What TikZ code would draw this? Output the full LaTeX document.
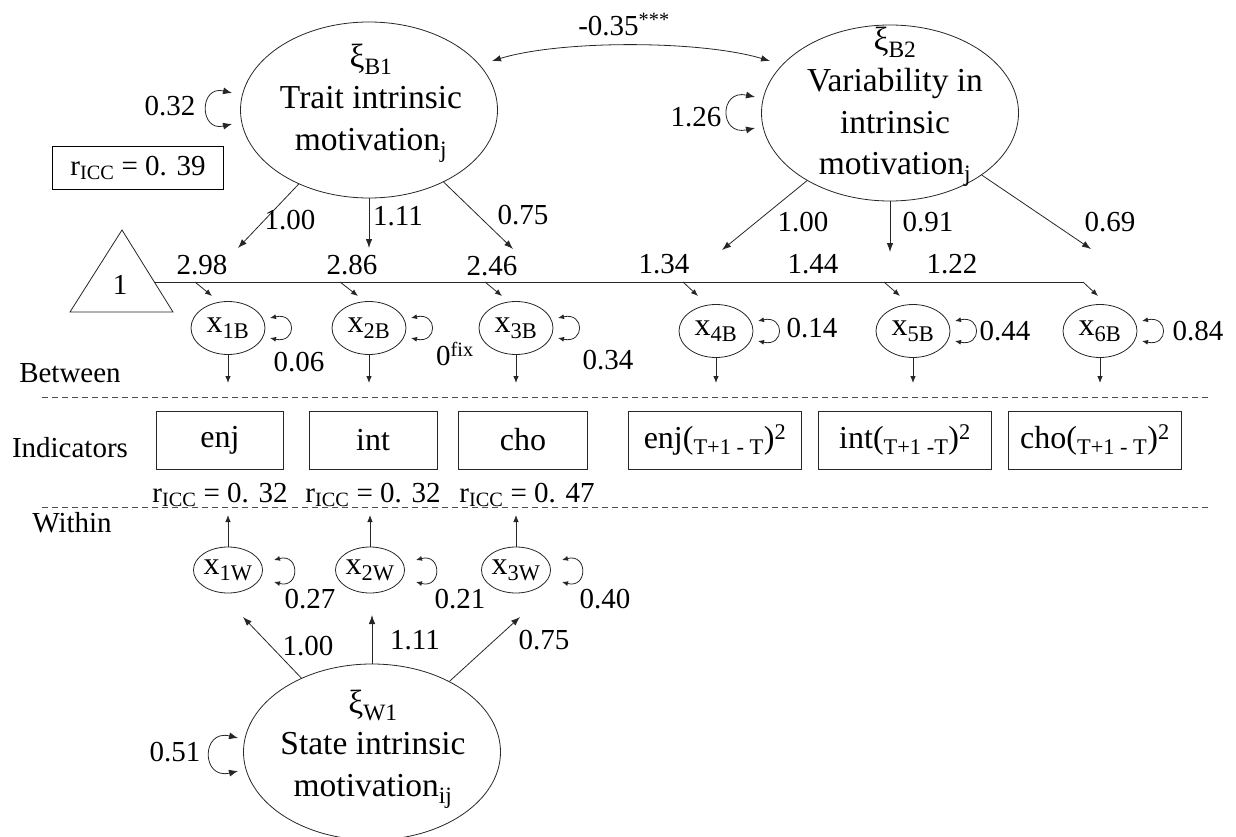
\documentclass[tikz,border=0pt]{standalone}
\usepackage{fontspec}
\setmainfont{Liberation Serif}
\usetikzlibrary{arrows.meta,shapes.geometric}
\begin{document}
\begin{tikzpicture}[x=1pt,y=-1pt,
  ln/.style={draw=black!85, line width=0.8pt},
  lat/.style={ln, ellipse, minimum width=257pt, minimum height=176pt, inner sep=0pt},
  obsB/.style={ln, ellipse, minimum width=74pt, minimum height=53pt, inner sep=0pt, font=\fontsize{32}{36}\selectfont},
  obsW/.style={ln, ellipse, minimum width=68pt, minimum height=46pt, inner sep=0pt, font=\fontsize{32}{36}\selectfont},
  ind/.style={ln, rectangle, minimum height=58pt, inner sep=0pt, font=\fontsize{32}{36}\selectfont},
  lab/.style={inner sep=0pt, font=\fontsize{29}{34}\selectfont},
  bigtxt/.style={inner sep=0pt, align=center, font=\fontsize{33.5}{41.5}\selectfont},
  arr/.style={ln, -{Latex[length=9pt,width=6.5pt]}},
  sarr/.style={ln, -{Latex[length=7pt,width=5.5pt]}},
  cov/.style={ln, {Latex[length=9pt,width=6.5pt]}-{Latex[length=9pt,width=6.5pt]}},
  lp/.style={ln, {Latex[length=6pt,width=5pt]}-{Latex[length=6pt,width=5pt]}},
  lpbig/.style={ln, {Latex[length=9pt,width=7pt]}-{Latex[length=9pt,width=7pt]}},
  divider/.style={draw=black!70, line width=0.7pt, dash pattern=on 6pt off 4pt}
]
\useasboundingbox (0,0) rectangle (1236,837);

% ---------- latent variables ----------
\node[lat] (B1) at (369,110) {};
\node[bigtxt] (B1t) at (371,103) {ξ\textsubscript{B1}\\Trait intrinsic\\motivation\textsubscript{j}};
\node[lat] (B2) at (890,113) {};
\node[bigtxt] (B2t) at (895,107) {ξ\textsubscript{B2}\\Variability in\\intrinsic\\motivation\textsubscript{j}};
\node[lat] (W1) at (372,752) {};
\node[bigtxt] (W1t) at (373,749) {ξ\textsubscript{W1}\\State intrinsic\\motivation\textsubscript{ij}};

% ---------- covariance ----------
\coordinate (cvA) at (492,61);
\coordinate (cvB) at (770,61);
\draw[cov] (cvA) .. controls (560,40) and (700,40) .. (cvB);
\node[lab] (cvl) at (624,25) {-0.35\textsuperscript{***}};

% ---------- latent variances ----------
\coordinate (vB1a) at (232,93);  \coordinate (vB1b) at (232,124);
\draw[lpbig] (vB1a) .. controls (199,85) and (199,132) .. (vB1b);
\node[lab] (vB1l) at (170,106) {0.32};
\coordinate (vB2a) at (755,97);  \coordinate (vB2b) at (755,128);
\draw[lpbig] (vB2a) .. controls (719,89) and (719,136) .. (vB2b);
\node[lab] (vB2l) at (696,117) {1.26};
\coordinate (vW1a) at (238,738); \coordinate (vW1b) at (238,771);
\draw[lpbig] (vW1a) .. controls (201,729) and (201,780) .. (vW1b);
\node[lab] (vW1l) at (175,752) {0.51};

% ---------- ICC box ----------
\node[draw=black, line width=1.3pt, minimum width=171pt, minimum height=43pt, inner sep=0pt,
      font=\fontsize{29}{34}\selectfont] (icc) at (138,168) {r\textsubscript{ICC} = 0. 39};

% ---------- between loadings ----------
\coordinate (t11) at (238,248);
\coordinate (t12) at (369,248);
\coordinate (t13) at (513,249);
\draw[arr] (B1) -- (t11);
\draw[arr] (B1) -- (t12);
\draw[arr] (B1) -- (t13);
\node[lab] (l11) at (290,220) {1.00};
\node[lab] (l12) at (398,216) {1.11};
\node[lab] (l13) at (523,215) {0.75};
\coordinate (t21) at (722,250);
\coordinate (t22) at (890,252);
\coordinate (t23) at (1091,249);
\draw[arr] (B2) -- (t21);
\draw[arr] (B2) -- (t22);
\draw[arr] (B2) -- (t23);
\node[lab] (l21) at (803,222) {1.00};
\node[lab] (l22) at (928,222) {0.91};
\node[lab] (l23) at (1110,222) {0.69};

% ---------- mean structure ----------
\coordinate (tr1) at (122,230);
\coordinate (tr2) at (70,312);
\coordinate (tr3) at (173,312);
\draw[ln] (tr1) -- (tr2) -- (tr3) -- cycle;
\node[lab] (one) at (120,285) {1};
\coordinate (m0) at (154,282);
\coordinate (m6) at (1083,282);
\draw[ln] (m0) -- (m6);
\foreach \s/\t/\n in {195/212/1, 340/358/2, 485/502/3, 683/698/4, 884/900/5, 1083/1098/6}{
  \coordinate (ms\n) at (\s,282);
  \coordinate (mt\n) at (\t,296);
  \draw[sarr] (ms\n) -- (mt\n);
}
\node[lab] (mu1) at (202,265) {2.98};
\node[lab] (mu2) at (352,265) {2.86};
\node[lab] (mu3) at (492,266) {2.46};
\node[lab] (mu4) at (664,264) {1.34};
\node[lab] (mu5) at (813,264) {1.44};
\node[lab] (mu6) at (952,264) {1.22};

% ---------- between observed ----------
\node[obsB] (x1B) at (228,328) {x\textsubscript{1B}};
\node[obsB] (x2B) at (369,328) {x\textsubscript{2B}};
\node[obsB] (x3B) at (516,328) {x\textsubscript{3B}};
\node[obsB] (x4B) at (716,331) {x\textsubscript{4B}};
\node[obsB] (x5B) at (913,331) {x\textsubscript{5B}};
\node[obsB] (x6B) at (1100,331) {x\textsubscript{6B}};
\foreach \n/\cx/\cy in {x1B/228/328, x2B/369/328, x3B/516/328, x4B/716/331, x5B/913/331, x6B/1100/331}{
  \coordinate (\n a) at ({\cx+42},{\cy-10});
  \coordinate (\n b) at ({\cx+42},{\cy+10});
  \draw[lp] (\n a) .. controls ({\cx+69},{\cy-16}) and ({\cx+69},{\cy+16}) .. (\n b);
  \coordinate (\n d) at (\cx,383);
  \draw[sarr] (\n) -- (\n d);
}
\node[lab] (r1B) at (299,362) {0.06};
\node[lab, anchor=west] (r2B) at (436,354) {0\textsuperscript{fix}};
\node[lab] (r3B) at (608,360) {0.34};
\node[lab] (r4B) at (812,328) {0.14};
\node[lab] (r5B) at (1005,331) {0.44};
\node[lab] (r6B) at (1198,331) {0.84};

% ---------- section dividers ----------
\coordinate (d1a) at (42,397);  \coordinate (d1b) at (1208,397);
\coordinate (d2a) at (42,507);  \coordinate (d2b) at (1208,507);
\draw[divider] (d1a) -- (d1b);
\draw[divider] (d2a) -- (d2b);
\node[lab] (betw) at (70,373) {Between};
\node[lab] (indi) at (70,448) {Indicators};
\node[lab] (with) at (72,523) {Within};

% ---------- indicators ----------
\node[ind, minimum width=127pt] (enj) at (220,440) {enj};
\node[ind, minimum width=128pt] (int) at (373,440) {int};
\node[ind, minimum width=129pt] (cho) at (523,440) {cho};
\node[ind, minimum width=173pt] (enj2) at (715,440) {enj(\textsubscript{T+1 - T})\textsuperscript{2}};
\node[ind, minimum width=173pt] (int2) at (905,440) {int(\textsubscript{T+1 -T})\textsuperscript{2}};
\node[ind, minimum width=173pt] (cho2) at (1095,440) {cho(\textsubscript{T+1 - T})\textsuperscript{2}};
\node[lab] (icc1) at (220,495) {r\textsubscript{ICC} = 0. 32};
\node[lab] (icc2) at (373,495) {r\textsubscript{ICC} = 0. 32};
\node[lab] (icc3) at (527,495) {r\textsubscript{ICC} = 0. 47};

% ---------- within observed ----------
\node[obsW] (x1W) at (228,570) {x\textsubscript{1W}};
\node[obsW] (x2W) at (370,570) {x\textsubscript{2W}};
\node[obsW] (x3W) at (516,570) {x\textsubscript{3W}};
\foreach \n/\cx in {x1W/228, x2W/370, x3W/516}{
  \coordinate (\n a) at ({\cx+46},560);
  \coordinate (\n b) at ({\cx+46},582);
  \draw[lp] (\n a) .. controls ({\cx+72},553) and ({\cx+72},589) .. (\n b);
  \coordinate (\n u) at (\cx,515);
  \draw[sarr] (\n) -- (\n u);
}
\node[lab] (r1W) at (310,599) {0.27};
\node[lab] (r2W) at (460,599) {0.21};
\node[lab] (r3W) at (605,599) {0.40};

% ---------- within loadings ----------
\coordinate (s1) at (243,617);
\coordinate (s2) at (372,615);
\coordinate (s3) at (520,617);
\draw[arr] (W1) -- (s1);
\draw[arr] (W1) -- (s2);
\draw[arr] (W1) -- (s3);
\node[lab] (w1l) at (308,646) {1.00};
\node[lab] (w2l) at (415,640) {1.11};
\node[lab] (w3l) at (544,640) {0.75};
\end{tikzpicture}
\end{document}
